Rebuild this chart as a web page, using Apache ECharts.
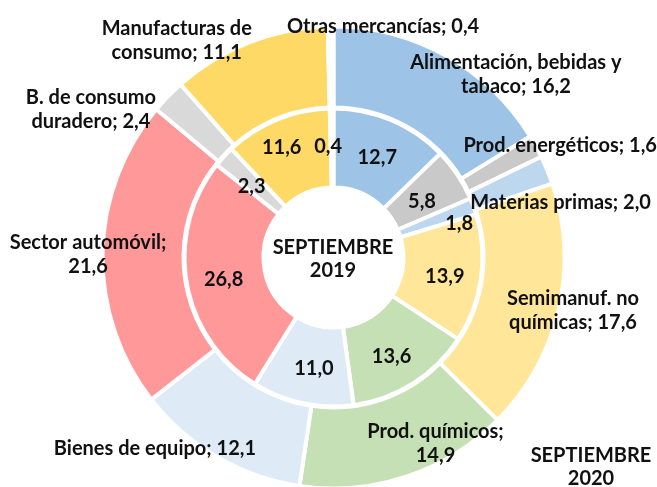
<!DOCTYPE html>
<html>
<head>
<meta charset="utf-8">
<script src="https://cdn.jsdelivr.net/npm/echarts@6/dist/echarts.min.js"></script>
<style>
	html, body { margin: 0; padding: 0; background: #fff; }
	#chart { width: 657px; height: 487px; }
</style>
</head>
<body>
<div id="chart"></div>
<script>
const categories = [
	'Alimentación, bebidas y tabaco',
	'Prod. energéticos',
	'Materias primas',
	'Semimanuf. no químicas',
	'Prod. químicos',
	'Bienes de equipo',
	'Sector automóvil',
	'B. de consumo duradero',
	'Manufacturas de consumo',
	'Otras mercancías'
];
const values2020 = [ 16.2, 1.6, 2.0, 17.6, 14.9, 12.1, 21.6, 2.4, 11.1, 0.4 ];
const values2019 = [ 12.7, 5.8, 1.8, 13.9, 13.6, 11.0, 26.8, 2.3, 11.6, 0.4 ];
const ringTitles = [ 'SEPTIEMBRE\n2019', 'SEPTIEMBRE\n2020' ];

const sliceColors = [
	'#9dc3e6', '#c9c9c9', '#bdd7ee', '#ffe699', '#c5e0b4',
	'#deebf7', '#ff9999', '#d9d9d9', '#ffd966', '#ffffff'
];
// label nudges, the original labels were dragged by hand
const outerNudge = [
	[ 88, -14 ], [ 57, -19 ], [ 48, 18 ], [ 51, 9 ], [ 41, 2 ],
	[ -81, 24 ], [ -52, 0 ], [ -104, -13 ], [ -86, -37 ], [ 52, -37 ]
];
// max characters per line for the outer labels
const outerWrap = [ 24, 40, 40, 14, 15, 40, 17, 14, 16, 40 ];
const innerNudge = [
	[ 0, 4 ], [ -5, 7 ], [ 20, 5 ], [ 0, 3 ], [ -2, 4 ],
	[ 4, 1 ], [ 1, 3 ], [ 1, 5 ], [ -9, -6 ], [ -4, 2 ]
];

const textStyle = {
	fontFamily: 'Lato',
	fontWeight: 'bold',
	fontSize: 20,
	color: '#111'
};

const fmt = ( v ) => v.toFixed( 1 ).replace( '.', ',' );

// greedy word wrap, like the label boxes in the original
const wrap = ( text, max ) => {
	const lines = [];
	let line = '';
	text.split( ' ' ).forEach( ( word ) => {
		const next = line ? line + ' ' + word : word;
		if ( next.length > max && line ) {
			lines.push( line );
			line = word;
		} else {
			line = next;
		}
	} );
	lines.push( line );
	return lines.join( '\n' );
};

const chartPage = {
	chart: null,

	init: function () {
		this.chart = echarts.init( document.getElementById( 'chart' ), null, { renderer: 'canvas' } );
		this.chart.setOption( this.buildOption() );
	},

	ringData: function ( values ) {
		return values.map( ( v, i ) => ( {
			name: categories[ i ],
			value: v,
			itemStyle: { color: sliceColors[ i ] }
		} ) );
	},

	ringSeries: function ( radius, values, formatter, nudge ) {
		return {
			type: 'pie',
			center: [ 333.5, 257.5 ],
			radius: radius,
			startAngle: 90,
			clockwise: true,
			silent: true,
			animation: false,
			itemStyle: { borderColor: '#fff', borderWidth: 4 },
			label: Object.assign( {
				show: true,
				position: 'inside',
				align: 'center',
				lineHeight: 24,
				formatter: formatter
			}, textStyle ),
			labelLine: { show: false },
			labelLayout: ( p ) => ( { dx: nudge[ p.dataIndex ][ 0 ], dy: nudge[ p.dataIndex ][ 1 ] } ),
			data: this.ringData( values )
		};
	},

	titleText: function ( text, x, y ) {
		return {
			type: 'text',
			x: x,
			y: y,
			style: {
				text: text,
				align: 'center',
				verticalAlign: 'middle',
				lineHeight: 23,
				fill: '#111',
				font: 'bold 20px Lato'
			}
		};
	},

	buildOption: function () {
		return {
			backgroundColor: '#fff',
			series: [
				this.ringSeries( [ 70, 149 ], values2019,
					( p ) => fmt( p.value ), innerNudge ),
				this.ringSeries( [ 150, 231 ], values2020,
					( p ) => wrap( p.name + '; ' + fmt( p.value ), outerWrap[ p.dataIndex ] ), outerNudge )
			],
			graphic: [
				this.titleText( ringTitles[ 0 ], 333, 259 ),
				this.titleText( ringTitles[ 1 ], 591, 467 )
			]
		};
	}
};

chartPage.init();
</script>
</body>
</html>
